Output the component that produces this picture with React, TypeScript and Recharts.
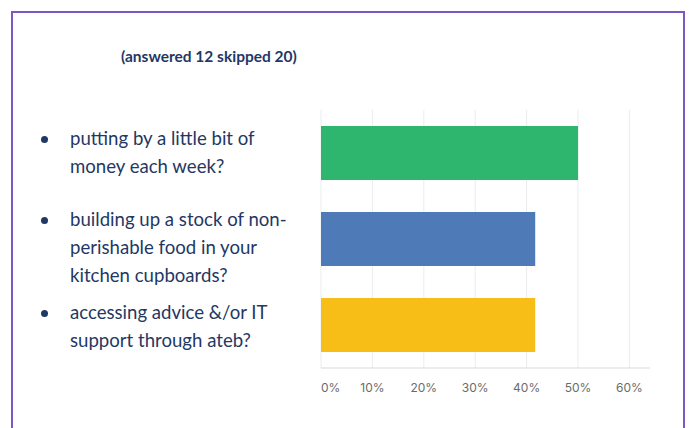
import { Bar, BarChart, CartesianGrid, Cell, XAxis, YAxis } from "recharts"

// answers (% of the 12 respondents)
const questions = [
  "putting by a little bit of money each week?",
  "building up a stock of non-perishable food in your kitchen cupboards?",
  "accessing advice &/or IT support through ateb?",
]
const values = [50, 41.67, 41.67]
const barColors = ["#2eb56e", "#4e7bb8", "#f6be16"]
const ticks = [0, 10, 20, 30, 40, 50, 60]

// how the labels break on the left, one array per bullet
const bulletLines = [
  ["putting by a little bit of", "money each week?"],
  ["building up a stock of non-", "perishable food in your", "kitchen cupboards?"],
  ["accessing advice &/or IT", "support through ateb?"],
]
const bulletTops = [124, 205, 298]

const data = questions.map((q, i) => ({ name: q, value: values[i] }))

const textColor = "#1f3864"

function PercentTick(props: any) {
  const { x, y, payload } = props
  return (
    <text
      x={x}
      y={y}
      dy={16}
      textAnchor={payload.value === 0 ? "start" : "middle"}
      fill="#6b6b6b"
      fontSize={12}
      fontFamily="Inter, 'Noto Sans', sans-serif"
    >
      {payload.value}%
    </text>
  )
}

export default function App() {
  return (
    <div
      style={{
        position: "absolute",
        left: 0,
        top: 0,
        width: 689,
        height: 428,
        overflow: "hidden",
        background: "#fff",
        fontFamily: "Lato, 'Open Sans', sans-serif",
      }}
    >
      <div
        style={{
          position: "absolute",
          left: 11,
          top: 11,
          width: 670,
          height: 500,
          border: "2px solid #7d55c4",
        }}
      />
      <div
        style={{
          position: "absolute",
          left: 121,
          top: 47,
          fontSize: 15.5,
          fontWeight: 700,
          color: textColor,
          whiteSpace: "nowrap",
        }}
      >
        (answered 12 skipped 20)
      </div>

      {bulletLines.map((lines, i) => (
        <div key={i} style={{ position: "absolute", left: 0, top: bulletTops[i] }}>
          <div
            style={{
              position: "absolute",
              left: 41,
              top: 12,
              width: 7,
              height: 7,
              borderRadius: "50%",
              background: textColor,
            }}
          />
          <div
            style={{
              position: "absolute",
              left: 70,
              top: 0,
              fontSize: 18.6,
              lineHeight: "28px",
              color: textColor,
              whiteSpace: "nowrap",
            }}
          >
            {lines.map((l, j) => (
              <div key={j}>{l}</div>
            ))}
          </div>
        </div>
      ))}

      <div style={{ position: "absolute", left: 0, top: 0 }}>
        <BarChart
          width={689}
          height={428}
          data={data}
          layout="vertical"
          margin={{ top: 110, right: 39, bottom: 30, left: 321 }}
          barCategoryGap={16}
        >
          <CartesianGrid horizontal={false} stroke="#e9ecef" syncWithTicks />
          <XAxis
            type="number"
            domain={[0, 64]}
            ticks={ticks}
            tick={<PercentTick />}
            tickLine={false}
            axisLine={{ stroke: "#d9d9d9" }}
            height={30}
            interval={0}
          />
          <YAxis type="category" dataKey="name" hide />
          <Bar dataKey="value" isAnimationActive={false}>
            {data.map((d, i) => (
              <Cell key={d.name} fill={barColors[i]} />
            ))}
          </Bar>
        </BarChart>
      </div>
    </div>
  )
}
